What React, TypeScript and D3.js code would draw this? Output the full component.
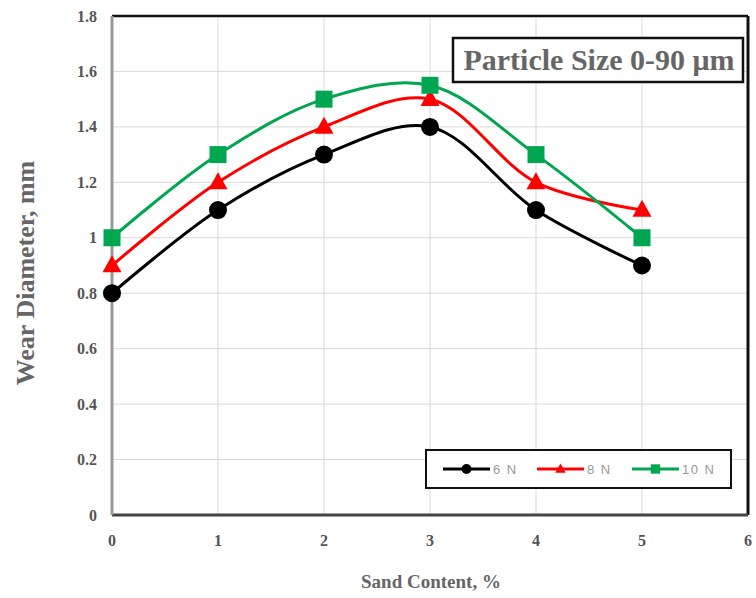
import React from "react";
import * as d3 from "d3";

const xValues = [0, 1, 2, 3, 4, 5];
const series6N = [0.8, 1.1, 1.3, 1.4, 1.1, 0.9];
const series8N = [0.9, 1.2, 1.4, 1.5, 1.2, 1.1];
const series10N = [1.0, 1.3, 1.5, 1.55, 1.3, 1.0];
const xTicks = [0, 1, 2, 3, 4, 5, 6];
const yTicks = [0, 0.2, 0.4, 0.6, 0.8, 1, 1.2, 1.4, 1.6, 1.8];
const seriesNames = ["6 N", "8 N", "10 N"];
const seriesColors = ["#000000", "#ff0000", "#00a650"];
const seriesShapes = ["circle", "triangle", "square"];

const W = 756, H = 598;
const L = 112, R = 748, T = 16, B = 515;

export default function App() {
  const x = d3.scaleLinear().domain([0, 6]).range([L, R]);
  const y = d3.scaleLinear().domain([0, 1.8]).range([B, T]);
  const allSeries = [series6N, series8N, series10N];
  const line = d3
    .line<number>()
    .x((_, i) => x(xValues[i]))
    .y((d) => y(d))
    .curve(d3.curveCatmullRom.alpha(0.5));

  const marker = (shape: string, cx: number, cy: number, color: string, s = 1) => {
    if (shape === "circle") return <circle cx={cx} cy={cy} r={9 * s} fill={color} />;
    if (shape === "square")
      return <rect x={cx - 8.5 * s} y={cy - 8.5 * s} width={17 * s} height={17 * s} fill={color} />;
    const h = 17 * s, w = 19 * s;
    return (
      <polygon
        points={`${cx},${cy - h * 0.6} ${cx - w / 2},${cy + h * 0.4} ${cx + w / 2},${cy + h * 0.4}`}
        fill={color}
      />
    );
  };

  const serif = "'Liberation Serif', 'DejaVu Serif', serif";
  const legendItems = [443, 537, 632];

  return (
    <svg width={W} height={H} style={{ display: "block", position: "absolute", left: 0, top: 0 }}>
      <rect x={0} y={0} width={W} height={H} fill="#fff" />
      {/* grid */}
      {xTicks.map((t) => (
        <line key={"gx" + t} x1={x(t)} x2={x(t)} y1={T} y2={B} stroke="#d9d9d9" strokeWidth={1} />
      ))}
      {yTicks.map((t) => (
        <line key={"gy" + t} x1={L} x2={R} y1={y(t)} y2={y(t)} stroke="#d9d9d9" strokeWidth={1} />
      ))}
      {/* frame */}
      <line x1={L} x2={R} y1={T} y2={T} stroke="#111" strokeWidth={2.5} />
      <line x1={R} x2={R} y1={T} y2={B} stroke="#111" strokeWidth={3} />
      <line x1={L} x2={R} y1={B} y2={B} stroke="#444" strokeWidth={3} />
      <line x1={L} x2={L} y1={T} y2={B} stroke="#999" strokeWidth={3} />

      {/* tick labels */}
      {yTicks.map((t) => (
        <text
          key={"yl" + t}
          x={97}
          y={y(t)}
          dy="0.35em"
          textAnchor="end"
          fontFamily={serif}
          fontWeight="bold"
          fontSize={16}
          fill="#555"
        >
          {t === 0 || t === 1 ? String(t) : d3.format(".1f")(t)}
        </text>
      ))}
      {xTicks.map((t) => (
        <text
          key={"xl" + t}
          x={x(t)}
          y={546}
          textAnchor="middle"
          fontFamily={serif}
          fontWeight="bold"
          fontSize={16}
          fill="#555"
        >
          {t}
        </text>
      ))}

      {/* axis titles */}
      <text
        x={431}
        y={588}
        textAnchor="middle"
        fontFamily={serif}
        fontWeight="bold"
        fontSize={19}
        fill="#666"
      >
        Sand Content, %
      </text>
      <text
        transform={`translate(34,${273}) rotate(-90)`}
        textAnchor="middle"
        fontFamily={serif}
        fontWeight="bold"
        fontSize={26}
        fill="#666"
      >
        Wear Diameter, mm
      </text>

      {/* series */}
      {allSeries.map((s, i) => (
        <path key={"p" + i} d={line(s) || ""} fill="none" stroke={seriesColors[i]} strokeWidth={3} />
      ))}
      {allSeries.map((s, i) =>
        s.map((v, j) => (
          <g key={"m" + i + "-" + j}>{marker(seriesShapes[i], x(xValues[j]), y(v), seriesColors[i])}</g>
        ))
      )}

      {/* title box */}
      <rect x={453} y={38} width={290} height={44} fill="#fff" stroke="#111" strokeWidth={2.5} />
      <text
        x={599}
        y={70}
        textAnchor="middle"
        fontFamily={serif}
        fontWeight="bold"
        fontSize={30}
        fill="#666"
      >
        Particle Size 0-90 μm
      </text>

      {/* legend */}
      <rect x={426} y={450} width={305} height={38} fill="#fff" stroke="#111" strokeWidth={2} />
      {legendItems.map((lx, i) => (
        <g key={"lg" + i}>
          <line x1={lx} x2={lx + 47} y1={469} y2={469} stroke={seriesColors[i]} strokeWidth={3} />
          {marker(seriesShapes[i], lx + 23.5, 469, seriesColors[i], 0.55)}
          <text
            x={lx + 50}
            y={469}
            dy="0.35em"
            fontFamily="'Liberation Sans', Arial, sans-serif"
            fontSize={13}
            letterSpacing={1.5}
            fill="#999"
          >
            {seriesNames[i]}
          </text>
        </g>
      ))}
    </svg>
  );
}
